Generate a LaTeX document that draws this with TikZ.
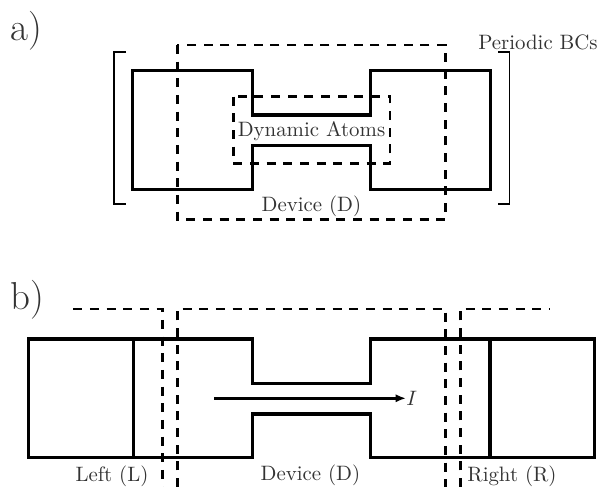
\documentclass[tikz,border=0pt]{standalone}
\usetikzlibrary{arrows.meta}
\begin{document}
\begin{tikzpicture}
    [x=0.48pt, y=-0.48pt,
    wall/.style={line width=1.6pt, line join=miter},
    region/.style={line width=1.3pt, dash pattern=on 4.3pt off 3.7pt},
    brack/.style={line width=0.9pt},
    lbl/.style={text=black!80, inner sep=0pt},
    panel/.style={lbl, font=\fontsize{18.7}{20}\selectfont},
    current/.style={line width=1.2pt, -{Latex[length=5pt,width=4pt]}}]
    \useasboundingbox (0,0) rectangle (600,487);

        %% a) periodic cell
    \node[panel] (pa) at (26,31) {a)};
    \draw[wall] (132.5,70.7) -- (252.3,70.7) -- (252.3,115) -- (370.5,115) -- (370.5,70.7)
        -- (490.5,70.7) -- (490.5,189.3) -- (370.5,189.3) -- (370.5,145.7) -- (252.3,145.7)
        -- (252.3,189.3) -- (132.5,189.3) -- cycle;
    \draw[region] (177.3,45) rectangle (445.7,219.3);
    \draw[region] (233.3,96.7) rectangle (390,163.3);
    \draw[brack] (126,52) -- (114,52) -- (114,204) -- (126,204);
    \draw[brack] (498,52) -- (509.5,52) -- (509.5,204) -- (498,204);
    \node[lbl] (pbc) at (538,42) {Periodic BCs};
    \node[lbl] (dyn) at (311.5,131) {Dynamic Atoms};
    \node[lbl] (deva) at (311.5,206) {Device (D)};

        %% b) open system with leads
    \node[panel] (pb) at (27,300) {b)};
    \draw[wall] (28.3,339) -- (252.3,339) -- (252.3,383.3) -- (370.5,383.3) -- (370.5,339)
        -- (594.3,339) -- (594.3,457.7) -- (370.5,457.7) -- (370.5,414) -- (252.3,414)
        -- (252.3,457.7) -- (28.3,457.7) -- cycle;
    \draw[wall] (133.3,339) -- (133.3,457.7);
    \draw[wall] (490,339) -- (490,457.7);
    \draw[region] (73.3,309) -- (162.3,309) -- (162.3,487);
    \draw[region] (177.3,487) -- (177.3,309) -- (445.7,309) -- (445.7,487);
    \draw[region] (460.3,487) -- (460.3,309) -- (550,309);
    \coordinate (istart) at (214,398.3);
    \node[lbl, anchor=west] (I) at (406,398.3) {$I$};
    \draw[current] (istart) -- (I.west);
    \node[lbl] (lead) at (112,476) {Left (L)};
    \node[lbl] (devb) at (310.5,475) {Device (D)};
    \node[lbl] (read) at (512,476) {Right (R)};
\end{tikzpicture}
\end{document}
